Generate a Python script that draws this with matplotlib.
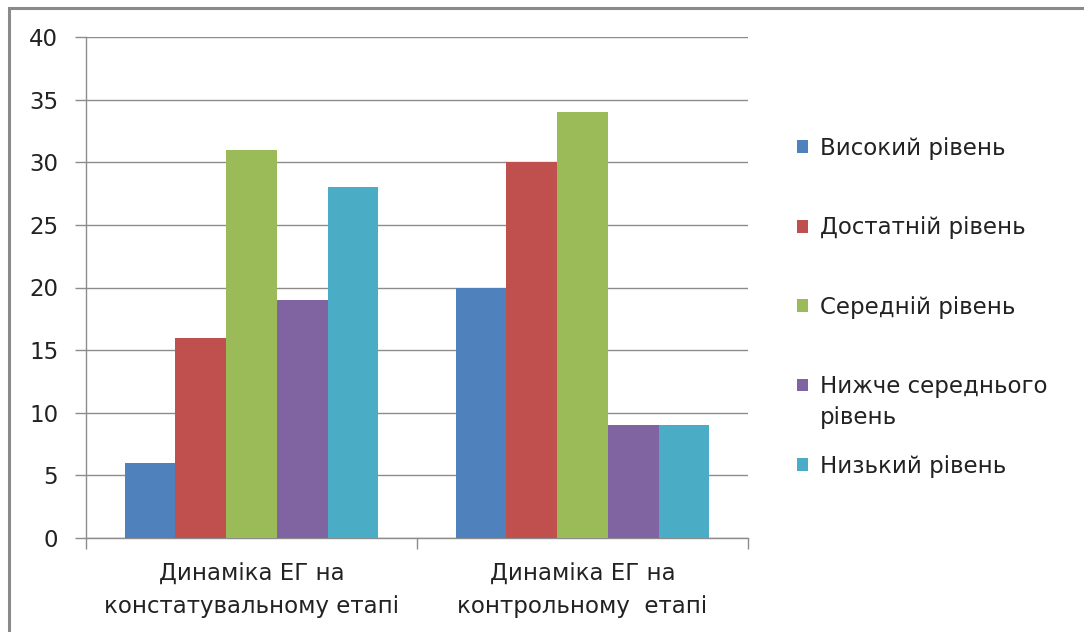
import matplotlib
matplotlib.use("Agg")
import matplotlib.pyplot as plt
from matplotlib.patches import Rectangle
import numpy as np

categories = ["Динаміка ЕГ на\nконстатувальному етапі", "Динаміка ЕГ на\nконтрольному  етапі"]
series_names = ["Високий рівень", "Достатній рівень", "Середній рівень",
                "Нижче середнього", "Низький рівень"]
series_values = [
    [6, 20],
    [16, 30],
    [31, 34],
    [19, 9],
    [28, 9],
]
colors = ["#4F81BD", "#C0504D", "#9BBB59", "#8064A2", "#4BACC6"]
yticks = [0, 5, 10, 15, 20, 25, 30, 35, 40]

plt.rcParams['font.family'] = ['DejaVu Sans']
FS = 16.5
FSPX = FS * 100 / 72
TXT = "#222222"
GRID = "#8c8c8c"

fig = plt.figure(figsize=(10.84, 6.32), dpi=100)
ax = fig.add_axes([86/1084, 1-538/632, (748-86)/1084, (538-37)/632])

x = np.arange(len(categories))
n = len(series_values)
bw = 0.767 / n
handles = []
for i, (vals, c) in enumerate(zip(series_values, colors)):
    off = (i - (n-1)/2) * bw
    b = ax.bar(x + off, vals, width=bw, color=c, edgecolor='none', zorder=3, label=series_names[i])
    handles.append(b)

ax.set_xlim(-0.5, len(categories)-0.5)
ax.set_ylim(0, 40)
ax.set_yticks(yticks)
ax.set_yticklabels([str(v) for v in yticks], fontsize=FS, color=TXT)
ax.yaxis.grid(True, color=GRID, linewidth=1.0, zorder=0)
ax.tick_params(axis='y', length=8, width=1, color=GRID, pad=12)

ax.set_xticks(np.arange(-0.5, len(categories)))
ax.set_xticklabels([''] * (len(categories)+1))
ax.set_xticks(x, minor=True)
ax.set_xticklabels(categories, minor=True, fontsize=FS, color=TXT, linespacing=1.52)
ax.tick_params(axis='x', which='major', length=8, width=1, color=GRID)
ax.tick_params(axis='x', which='minor', length=0, pad=17.5)

for s in ['top', 'right']:
    ax.spines[s].set_visible(False)
for s in ['left', 'bottom']:
    ax.spines[s].set_color(GRID)
    ax.spines[s].set_linewidth(1)
ax.set_axisbelow(True)

leg = fig.legend(handles=handles, labels=series_names, loc='upper left',
                 bbox_to_anchor=(797/1084, 1-137/632), frameon=False,
                 fontsize=FS, handlelength=11/FSPX, handleheight=11/FSPX,
                 handletextpad=12/FSPX, labelspacing=2.46, borderpad=0, borderaxespad=0)
for t in leg.get_texts():
    t.set_color(TXT)

fig.canvas.draw()
inv = fig.transFigure.inverted()
bb = leg.get_texts()[3].get_window_extent()
(x0, y0) = inv.transform((bb.x0, bb.y0))
fig.text(x0, y0 - 31/632, "рівень", fontsize=FS, color=TXT, ha='left', va='bottom')

frame = Rectangle((8.5/1084, -0.1), 1.2, 1.1 - 7.5/632, transform=fig.transFigure,
                  fill=False, edgecolor="#8a8a8a", linewidth=2.2, clip_on=False)
fig.add_artist(frame)

fig.savefig("out.png", dpi=100)
